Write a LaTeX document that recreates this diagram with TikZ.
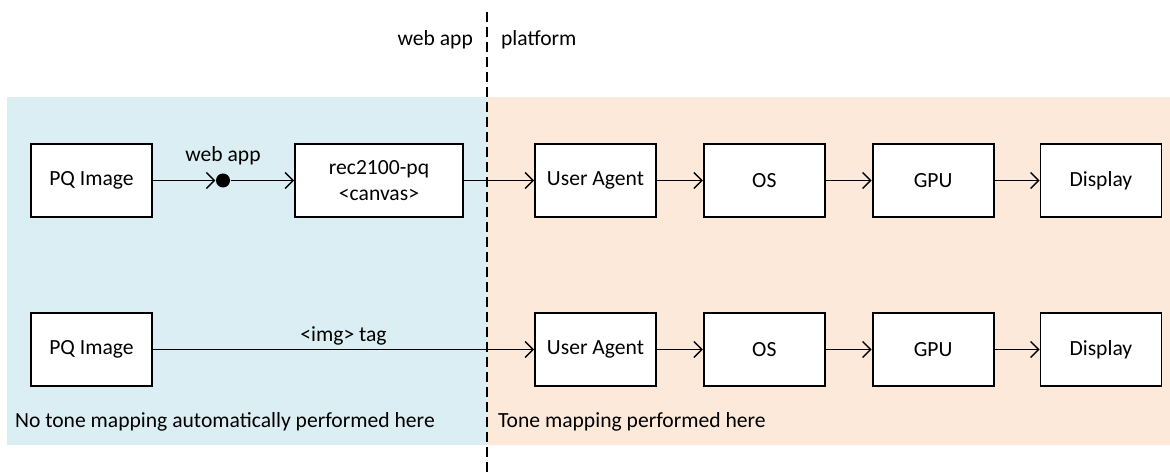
\documentclass[tikz,border=0pt]{standalone}
\usepackage{fontspec}
\setmainfont{Carlito}
\usetikzlibrary{positioning,arrows.meta,quotes}
\definecolor{webbg}{HTML}{DAEEF3}
\definecolor{platbg}{HTML}{FDE9D9}

\begin{document}
\begin{tikzpicture}[x=0.5pt,y=-0.5pt,
    font=\fontsize{10.8}{13}\selectfont,
    box/.style={draw,line width=0.9pt,fill=white,align=center,
        minimum width=60.5pt,minimum height=36.5pt},
    joint/.style={circle,fill,inner sep=0pt,minimum size=7pt},
]
\useasboundingbox (0,0) rectangle (1170,474);
\fill[webbg] (7,97) rectangle (487,445);
\fill[platbg] (487,97) rectangle (1170,445);
\draw[dash pattern=on 5pt off 2.5pt,line width=0.7pt] (487,12) -- (487,474);

\node[anchor=east] (wa) at (480,40) {web app};
\node[anchor=west] (pf) at (494,40) {platform};
\node[anchor=west] (nomap) at (8,422) {No tone mapping automatically performed here};
\node[anchor=west] (tmap) at (491,422) {Tone mapping performed here};

\draw[
    >={Straight Barb[length=4pt,width=8pt]},->,line width=0.7pt,
    every edge quotes/.style={above,inner sep=2pt},
]
% canvas route
node[box] (pq) at (91.5,180.5) {PQ Image}
node[joint,"web app"] (j) at (223,180.5) {}
node[box,minimum width=84pt] (cv) at (379,180.5) {rec2100-pq\\<canvas>}
node[box] (ua) at (595.5,180.5) {User Agent}
node[box,right=23pt of ua] (os) {OS}
node[box,right=23pt of os] (gpu) {GPU}
node[box,right=22.5pt of gpu] (disp) {Display}
(pq) edge (j)
(j) edge (cv)
(cv) edge (ua)
(ua) edge (os)
(os) edge (gpu)
(gpu) edge (disp)

% img tag route
node[box] (pq2) at (91.5,349.5) {PQ Image}
node[box] (ua2) at (595.5,349.5) {User Agent}
node[box,right=23pt of ua2] (os2) {OS}
node[box,right=23pt of os2] (gpu2) {GPU}
node[box,right=22.5pt of gpu2] (disp2) {Display}
(pq2) edge["<img> tag"] (ua2)
(ua2) edge (os2)
(os2) edge (gpu2)
(gpu2) edge (disp2)
;
\end{tikzpicture}
\end{document}
